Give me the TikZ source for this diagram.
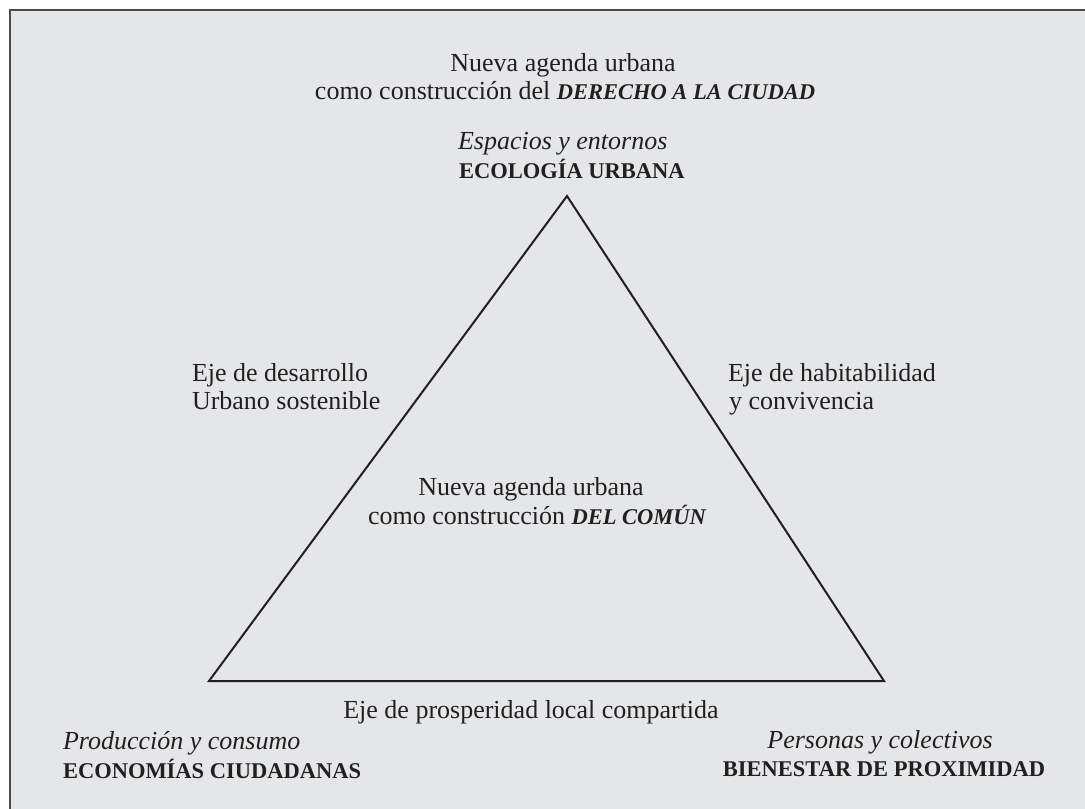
\documentclass[tikz,border=0pt]{standalone}
\usepackage{fontspec}
\setmainfont{Liberation Serif}
\definecolor{bg}{HTML}{E5E6E8}
\definecolor{frame}{HTML}{4A4A4A}
\definecolor{ink}{HTML}{231F20}
\newcommand{\Bx}[1]{{\fontsize{22.5}{29}\selectfont\bfseries #1}}
\tikzset{
  txt/.style={inner sep=0pt, outer sep=0pt, text=ink, font=\fontsize{26}{29}\selectfont, anchor=base},
  txtl/.style={txt, anchor=base west},
  tri/.style={draw=ink, line width=2pt, line join=miter}
}
\begin{document}
\begin{tikzpicture}[x=1pt,y=-1pt]
\useasboundingbox (0,0) rectangle (1085,809);
\fill[white] (0,0) rectangle (1085,809);
\fill[bg] (10,10) rectangle (1085,809);
\draw[frame, line width=2pt] (10,809) -- (10,10) -- (1085,10);

\coordinate (A) at (567,196);
\coordinate (B) at (209,681);
\coordinate (C) at (884,681);
\draw[tri] (A) -- (B) -- (C) -- cycle;

\node[txt] (t1) at (563,71) {Nueva agenda urbana};
\node[txt] (t2) at (565,99) {como construcción del \Bx{\itshape DERECHO A LA CIUDAD}};

\node[txtl] (e1) at (458,149) {\itshape Espacios y entornos};
\node[txtl] (e2) at (459,178) {\Bx{ECOLOGÍA URBANA}};

\node[txtl] (l1) at (192,381) {Eje de desarrollo};
\node[txtl] (l2) at (192,409) {Urbano sostenible};

\node[txtl] (r1) at (728,381) {Eje de habitabilidad};
\node[txtl] (r2) at (729,409) {y convivencia};

\node[txt] (c1) at (531,495) {Nueva agenda urbana};
\node[txt] (c2) at (537,524) {como construcción \Bx{\itshape DEL COMÚN}};

\node[txt] (b1) at (531,718) {Eje de prosperidad local compartida};

\node[txtl] (bl1) at (63,749) {\itshape Producción y consumo};
\node[txtl] (bl2) at (63,778) {\Bx{ECONOMÍAS CIUDADANAS}};

\node[txt] (br1) at (880,748) {\itshape Personas y colectivos};
\node[txt] (br2) at (884,776) {\Bx{BIENESTAR DE PROXIMIDAD}};
\end{tikzpicture}
\end{document}
